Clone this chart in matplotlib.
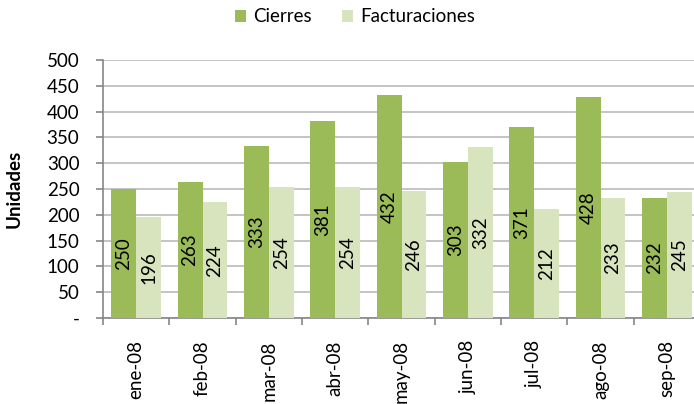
import matplotlib.pyplot as plt
import numpy as np
from matplotlib.ticker import FuncFormatter

months = ['ene-08', 'feb-08', 'mar-08', 'abr-08', 'may-08', 'jun-08', 'jul-08', 'ago-08', 'sep-08']
cierres = [250, 263, 333, 381, 432, 303, 371, 428, 232]
facturaciones = [196, 224, 254, 254, 246, 332, 212, 233, 245]

plt.rcParams['font.family'] = ['Lato', 'DejaVu Sans']
fs = 13.5

fig = plt.figure(figsize=(6.94, 4.04), dpi=100)
ax = fig.add_axes([103 / 694, 1 - 318 / 404, 597 / 694, 258 / 404])

x = np.arange(len(months))
w = 0.375
b1 = ax.bar(x - w / 2, cierres, w, color='#9BBB59', label='Cierres', zorder=3)
b2 = ax.bar(x + w / 2, facturaciones, w, color='#D7E4BD', label='Facturaciones', zorder=3)

for xs, vals in ((x - w / 2, cierres), (x + w / 2, facturaciones)):
    for xi, v in zip(xs, vals):
        ax.text(xi, v / 2, str(v), rotation=90, ha='center', va='center',
                fontsize=fs, color='black', zorder=4)

ax.set_xlim(-0.5, len(months) - 0.5)
ax.set_ylim(0, 500)
ax.set_yticks(range(0, 501, 50))
ax.yaxis.set_major_formatter(FuncFormatter(lambda v, p: '-' if v == 0 else f'{int(v)}'))
ax.set_xticks(x)
ax.set_xticklabels(months, rotation=90)
ax.set_xticks(np.arange(-0.5, len(months), 1), minor=True)
ax.tick_params(axis='x', which='major', length=0, pad=16, labelsize=fs)
ax.tick_params(axis='x', which='minor', length=5, color='#868686', width=1.2)
ax.tick_params(axis='y', length=5, color='#868686', width=1.2, pad=12, labelsize=fs)

ax.grid(axis='y', color='#BFBFBF', linewidth=1.3, zorder=0)
for s in ('top', 'right'):
    ax.spines[s].set_visible(False)
for s in ('left', 'bottom'):
    ax.spines[s].set_color('#868686')
    ax.spines[s].set_linewidth(1.2)

ax.set_ylabel('Unidades', fontsize=fs, fontweight='bold')
ax.yaxis.set_label_coords((23 - 103) / 597, 0.5)

fig.legend(handles=[b1, b2], loc='center', bbox_to_anchor=(355 / 694, 1 - 17 / 404),
           ncol=2, frameon=False, fontsize=fs, handlelength=0.6, handleheight=0.6,
           handletextpad=0.4, columnspacing=1.6)

fig.savefig('out.png', dpi=100)
